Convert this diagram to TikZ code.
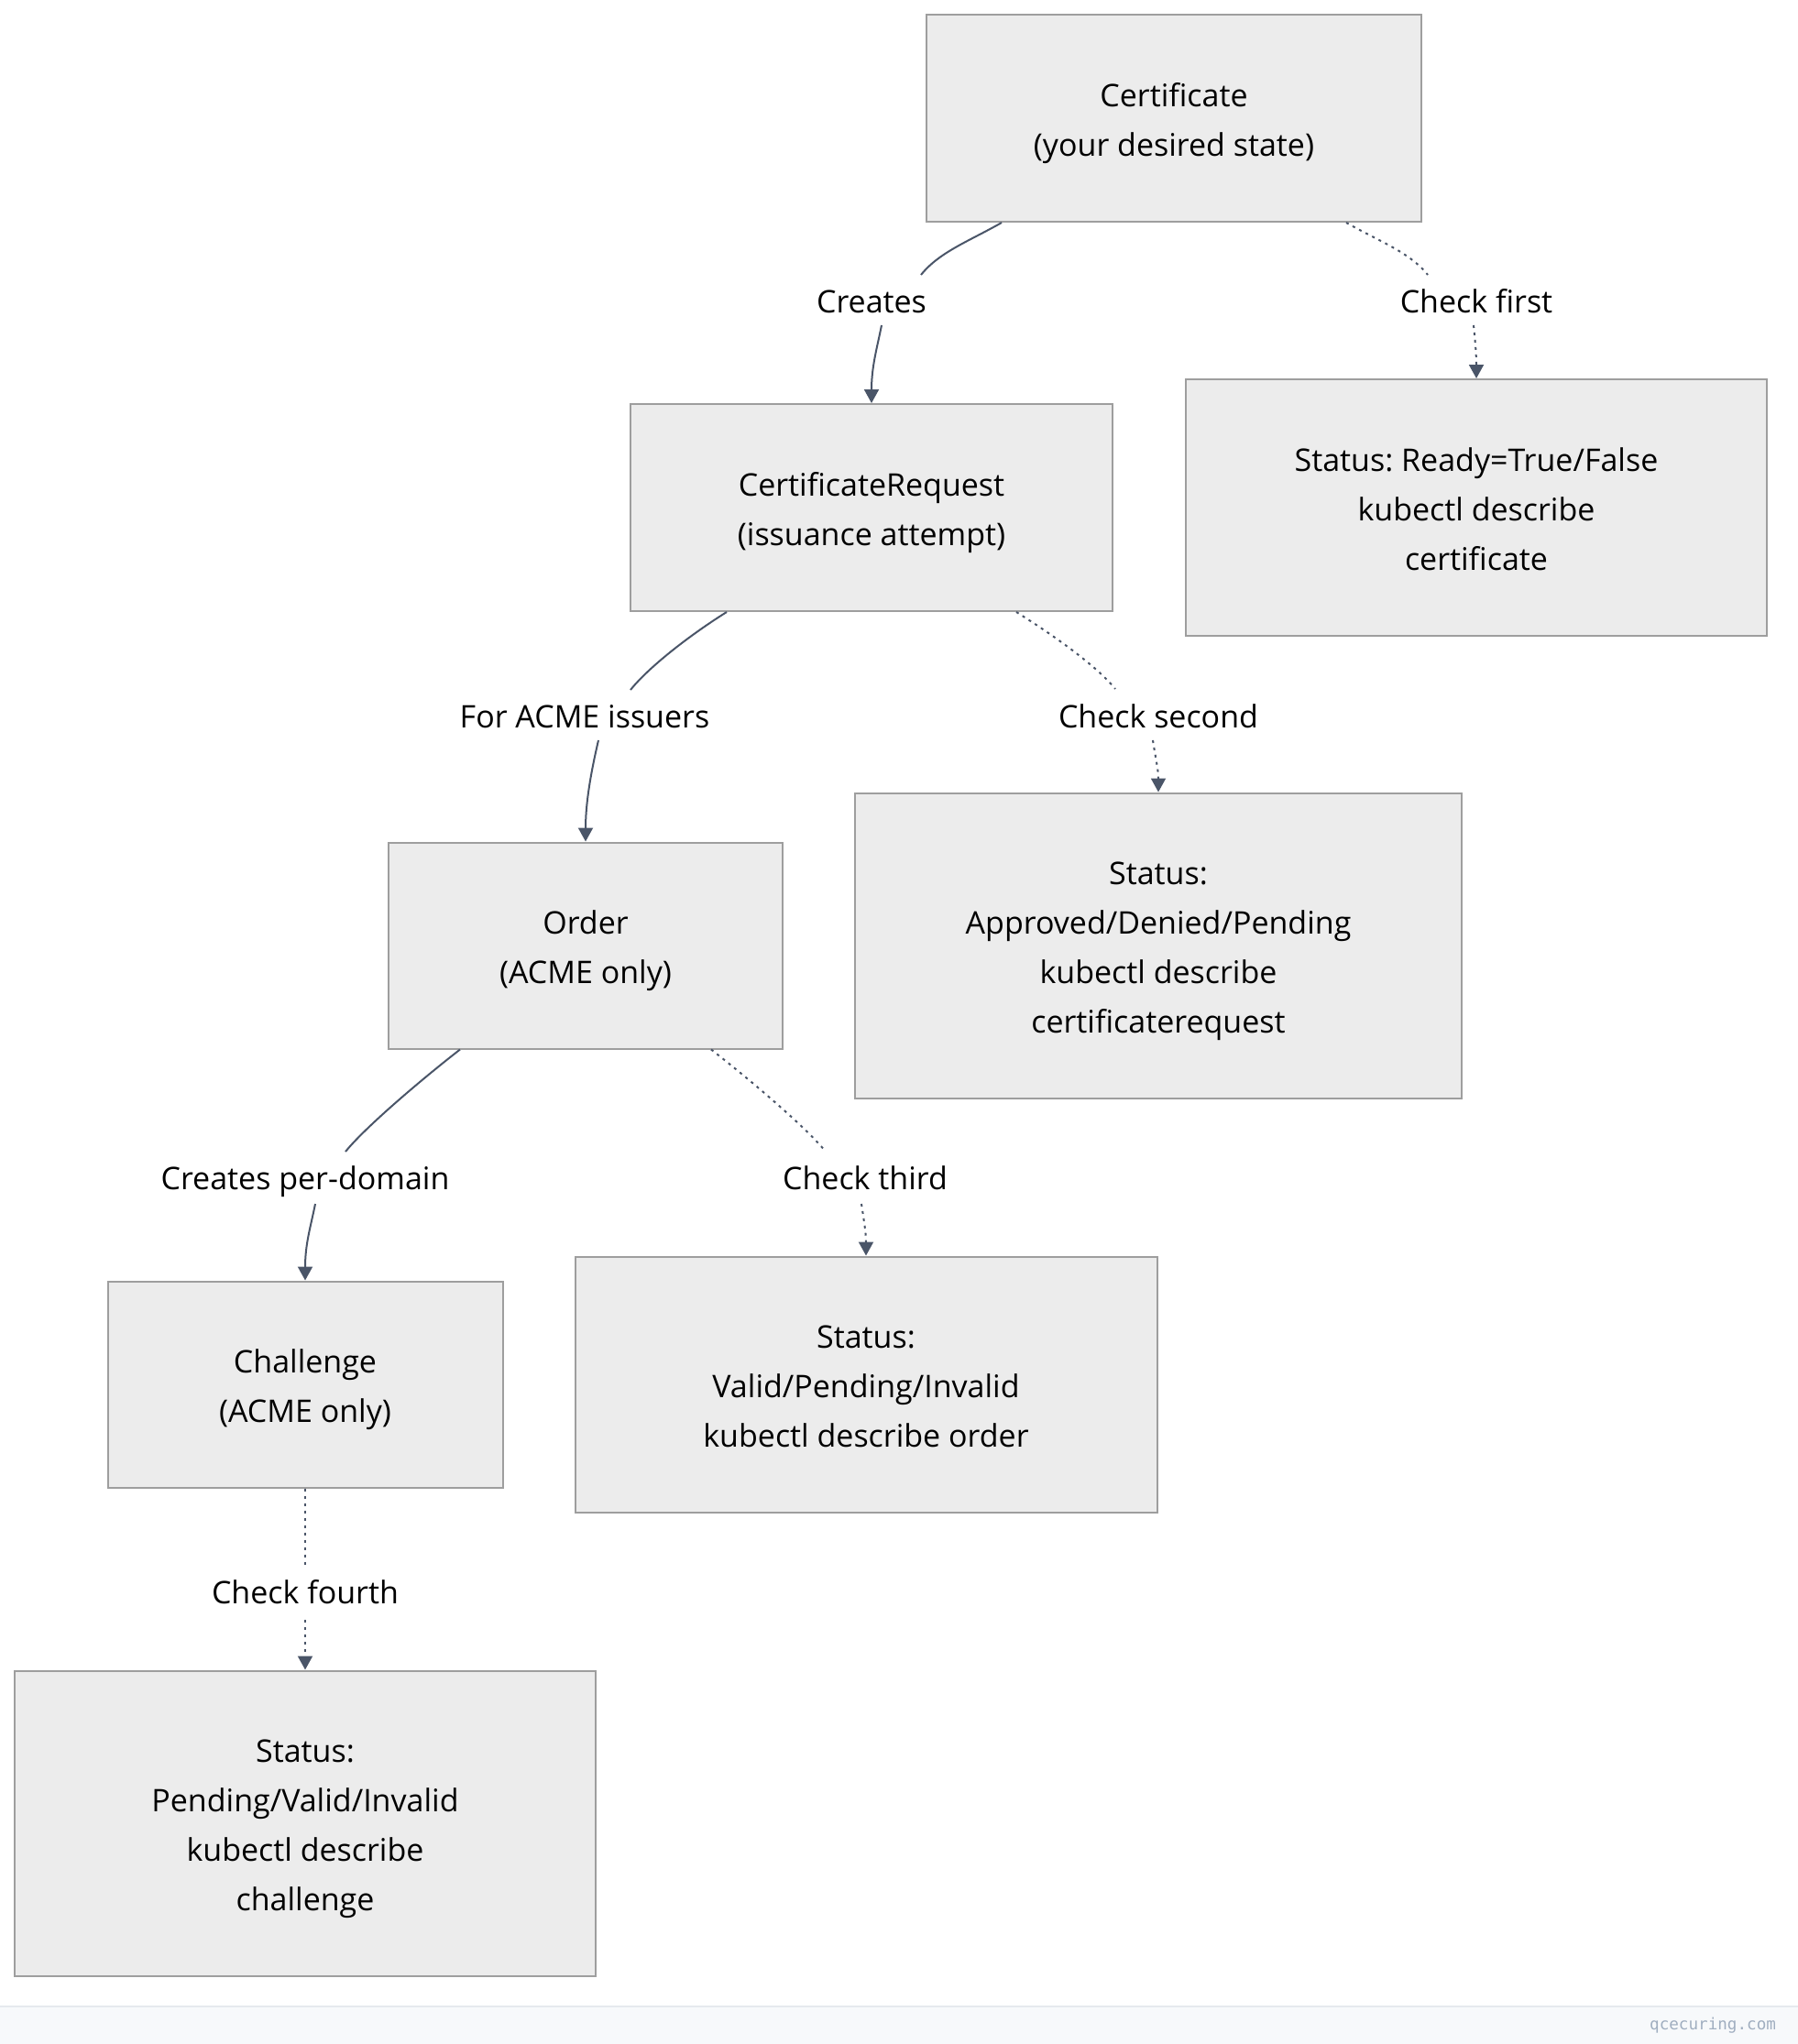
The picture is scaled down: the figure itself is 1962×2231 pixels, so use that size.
\documentclass[tikz,border=0pt]{standalone}
\usepackage{fontspec}
\setmainfont{Open Sans}
\newfontfamily\markfont{DejaVu Sans Mono}
\usetikzlibrary{calc,arrows.meta}
\frenchspacing
\definecolor{boxfilla}{HTML}{ECECEC}
\definecolor{boxlinea}{HTML}{9E9E9E}
\definecolor{linkcolora}{HTML}{4A5568}
\definecolor{barfilla}{HTML}{F7F9FB}
\definecolor{barlinea}{HTML}{E6E9EE}
\definecolor{marktexta}{HTML}{A0AEC0}
\colorlet{boxfill}{boxfilla}
\colorlet{boxline}{boxlinea}
\colorlet{linkcolor}{linkcolora}
\newcommand{\topline}{\rule{0pt}{20pt}}% evens out the first line
\tikzstyle{stagebox} =[
    draw=boxline,
    fill=boxfill,
    line width=1pt,
    rectangle,
    inner sep=0pt,
    align=center,
    font=\fontsize{17pt}{27pt}\selectfont,
    execute at end node={\rule[-5.9pt]{0pt}{0pt}}
    ]
\tikzstyle{linklabel} =[
    inner sep=0pt,
    text height=12.1pt,
    text depth=0pt,
    font=\fontsize{17pt}{27pt}\selectfont
    ]
\tikzstyle{link} =[draw=linkcolor, line width=1pt]
\tikzstyle{checklink} =[link, dash pattern=on 1.5pt off 2.5pt]
\tikzstyle{linkend} =[-{Triangle[length=7.5pt,width=8pt]}]

\begin{document}
\begin{tikzpicture}[x=0.5pt, y=-0.5pt]
\fill[white] (0,0) rectangle (1962,2231);
\useasboundingbox (0,0) rectangle (1962,2231);
\fill[barfilla] (0,2190) rectangle (1962,2231);
\draw[barlinea, line width=0.8pt] (0,2190) -- (1962,2190);
\node[anchor=east, text=marktexta, font=\markfont\fontsize{8.8pt}{11pt}\selectfont] (mark) at (1945,2211) {qcecuring.com};

% resources
\node[stagebox, minimum width=270pt, minimum height=113pt] (cert) at (1281,129) {\topline Certificate\\(your desired state)};
\node[stagebox, minimum width=263pt, minimum height=113pt] (creq) at (951,554) {\topline CertificateRequest\\(issuance attempt)};
\node[stagebox, minimum width=215pt, minimum height=112.5pt] (order) at (639,1032) {\topline Order\\(ACME only)};
\node[stagebox, minimum width=215.5pt, minimum height=112.5pt] (chal) at (333,1511) {\topline Challenge\\(ACME only)};

% status checks
\node[stagebox, minimum width=317pt, minimum height=140pt] (statcert) at (1611,554) {\topline Status: Ready=True/False\\kubectl describe\\certificate};
\node[stagebox, minimum width=331pt, minimum height=166.5pt] (statcreq) at (1264,1032) {\topline Status:\\Approved/Denied/Pending\\kubectl describe\\certificaterequest};
\node[stagebox, minimum width=317.5pt, minimum height=139.5pt] (statorder) at (945,1511) {\topline Status:\\Valid/Pending/Invalid\\kubectl describe order};
\node[stagebox, minimum width=317pt, minimum height=166.5pt] (statchal) at (333,1990) {\topline Status:\\Pending/Valid/Invalid\\kubectl describe\\challenge};

% labels
\node[linklabel] (creates) at (951,329) {Creates};
\node[linklabel] (chkfirst) at (1611,329) {Check first};
\node[linklabel] (foracme) at (638,782) {For ACME issuers};
\node[linklabel] (chksecond) at (1264,782) {Check second};
\node[linklabel] (perdomain) at (333,1286) {Creates per-domain};
\node[linklabel] (chkthird) at (944,1286) {Check third};
\node[linklabel] (chkfourth) at (333,1738) {Check fourth};

% links
\draw[link] ($(cert.south)+(-188,0)$) .. controls +(-35,20) and +(20,-25) .. ($(creates)+(54,-29)$);
\draw[link, linkend] ($(creates)+(11,26)$) .. controls +(-5,25) and +(0,-40) .. (creq.north);
\draw[checklink] ($(cert.south)+(188,0)$) .. controls +(35,20) and +(-20,-25) .. ($(chkfirst)+(-53,-29)$);
\draw[checklink, linkend] ($(chkfirst)+(-3,26)$) .. controls +(2,20) and +(0,-25) .. (statcert.north);

\draw[link] ($(creq.south)+(-158,0)$) .. controls +(-40,25) and +(20,-25) .. ($(foracme)+(50,-29)$);
\draw[link, linkend] ($(foracme)+(15,26)$) .. controls +(-7,30) and +(0,-45) .. (order.north);
\draw[checklink] ($(creq.south)+(158,0)$) .. controls +(40,25) and +(-20,-25) .. ($(chksecond)+(-47,-30)$);
\draw[checklink, linkend] ($(chksecond)+(-6,26)$) .. controls +(3,20) and +(0,-25) .. (statcreq.north);

\draw[link] ($(order.south)+(-137,0)$) .. controls +(-45,35) and +(20,-25) .. ($(perdomain)+(44,-29)$);
\draw[link, linkend] ($(perdomain)+(11,28)$) .. controls +(-5,25) and +(0,-40) .. (chal.north);
\draw[checklink] ($(order.south)+(137,0)$) .. controls +(45,35) and +(-20,-25) .. ($(chkthird)+(-43,-29)$);
\draw[checklink, linkend] ($(chkthird)+(-4,28)$) .. controls +(3,20) and +(0,-25) .. (statorder.north);

\draw[checklink] (chal.south) -- ($(chkfourth)+(0,-30)$);
\draw[checklink, linkend] ($(chkfourth)+(0,30)$) -- (statchal.north);
\end{tikzpicture}
\end{document}
